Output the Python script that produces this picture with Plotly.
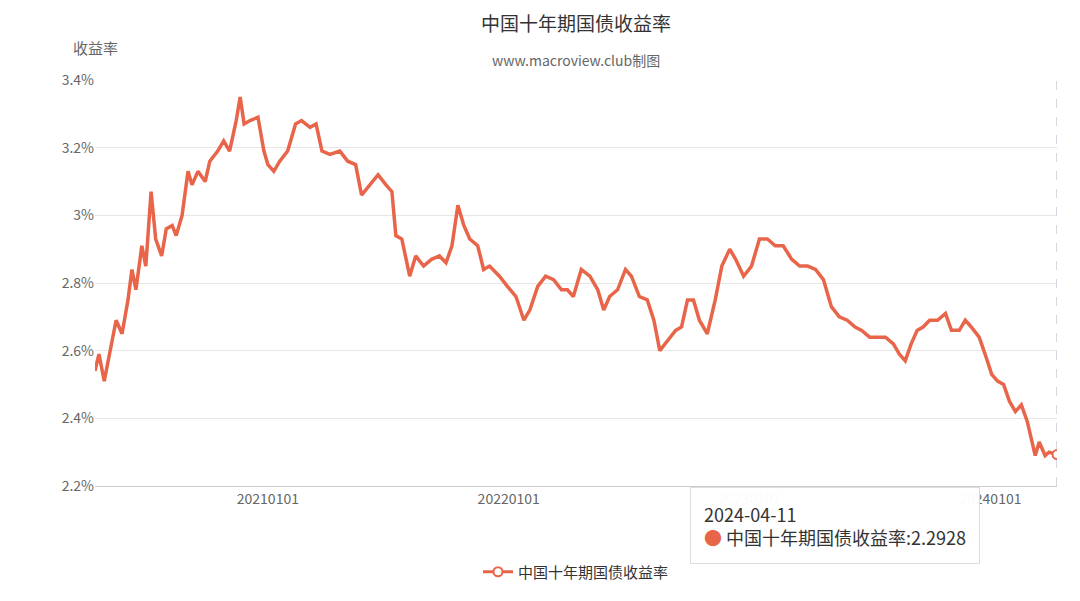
import plotly.graph_objects as go

dates = ["2020-04-14","2020-04-20","2020-04-28","2020-05-07","2020-05-16","2020-05-25","2020-06-03","2020-06-09","2020-06-15","2020-06-24","2020-06-30","2020-07-08","2020-07-15","2020-07-24","2020-07-31","2020-08-09","2020-08-15","2020-08-24","2020-09-02","2020-09-08","2020-09-17","2020-09-28","2020-10-05","2020-10-17","2020-10-26","2020-11-04","2020-11-14","2020-11-20","2020-11-26","2020-12-05","2020-12-17","2020-12-26",
"2021-01-01","2021-01-10","2021-01-19","2021-01-31","2021-02-12","2021-02-21","2021-03-06","2021-03-15","2021-03-24","2021-04-05","2021-04-20","2021-05-02","2021-05-14","2021-05-23","2021-06-04","2021-06-17","2021-06-29","2021-07-08","2021-07-14","2021-07-23","2021-08-04","2021-08-13","2021-08-25","2021-09-06","2021-09-18","2021-09-28","2021-10-07","2021-10-16","2021-10-25","2021-11-03","2021-11-15","2021-11-24","2021-12-03","2021-12-18","2021-12-30",
"2022-01-12","2022-01-24","2022-02-02","2022-02-14","2022-02-26","2022-03-10","2022-03-22","2022-03-31","2022-04-09","2022-04-21","2022-05-04","2022-05-16","2022-05-25","2022-06-03","2022-06-15","2022-06-27","2022-07-06","2022-07-18","2022-07-30","2022-08-09","2022-08-18","2022-08-30","2022-09-11","2022-09-20","2022-09-29","2022-10-08","2022-10-17","2022-10-29","2022-11-10","2022-11-20","2022-12-02","2022-12-11","2022-12-23",
"2023-01-04","2023-01-16","2023-01-28","2023-02-09","2023-02-21","2023-03-06","2023-03-18","2023-03-30","2023-04-11","2023-04-23","2023-05-05","2023-05-17","2023-05-29","2023-06-10","2023-06-20","2023-07-02","2023-07-14","2023-07-26","2023-08-07","2023-08-16","2023-08-25","2023-09-03","2023-09-12","2023-09-21","2023-10-01","2023-10-13","2023-10-25","2023-11-03","2023-11-15","2023-11-24","2023-12-03","2023-12-15","2023-12-24",
"2024-01-03","2024-01-12","2024-01-21","2024-01-30","2024-02-08","2024-02-17","2024-02-26","2024-03-03","2024-03-09","2024-03-15","2024-03-24","2024-03-30","2024-04-11"]
yields = [2.54,2.59,2.51,2.60,2.69,2.65,2.75,2.84,2.78,2.91,2.85,3.07,2.93,2.88,2.96,2.97,2.94,3.00,3.13,3.09,3.13,3.10,3.16,3.19,3.22,3.19,3.28,3.35,3.27,3.28,3.29,3.19,
3.15,3.13,3.16,3.19,3.27,3.28,3.26,3.27,3.19,3.18,3.19,3.16,3.15,3.06,3.09,3.12,3.09,3.07,2.94,2.93,2.82,2.88,2.85,2.87,2.88,2.86,2.91,3.03,2.97,2.93,2.91,2.84,2.85,2.82,2.79,
2.76,2.69,2.72,2.79,2.82,2.81,2.78,2.78,2.76,2.84,2.82,2.78,2.72,2.76,2.78,2.84,2.82,2.76,2.75,2.69,2.60,2.63,2.66,2.67,2.75,2.75,2.69,2.65,2.75,2.85,2.90,2.87,2.82,
2.85,2.93,2.93,2.91,2.91,2.87,2.85,2.85,2.84,2.81,2.73,2.70,2.69,2.67,2.66,2.64,2.64,2.64,2.62,2.59,2.57,2.62,2.66,2.67,2.69,2.69,2.71,2.66,2.66,2.69,2.67,2.64,2.59,
2.53,2.51,2.50,2.45,2.42,2.44,2.39,2.34,2.29,2.33,2.29,2.30,2.2928]
ytick_vals = [2.2,2.4,2.6,2.8,3.0,3.2,3.4]
ytick_text = ["2.2%","2.4%","2.6%","2.8%","3%","3.2%","3.4%"]
xtick_vals = ["2021-01-01","2022-01-01","2023-01-01","2024-01-01"]
xtick_text = ["20210101","20220101","20230101","20240101"]
name = "中国十年期国债收益率"
color = "#E8654A"
font = "Noto Sans CJK SC"

fig = go.Figure()
fig.add_trace(go.Scatter(x=dates, y=yields, mode="lines", name=name,
    line=dict(color=color, width=3.5), showlegend=False))
fig.add_trace(go.Scatter(x=[dates[-1]], y=[yields[-1]], mode="markers+lines", name=name,
    marker=dict(size=9, color="white", line=dict(color=color, width=2)),
    line=dict(color=color, width=3), showlegend=True))
fig.add_vline(x=dates[-1], line=dict(color="#aab0bd", width=1, dash="dash"))
H = 406
fig.update_layout(
    width=1080, height=601, plot_bgcolor="white", paper_bgcolor="white",
    font=dict(family=font, color="#666", size=14),
    margin=dict(l=87, r=31, t=72, b=123, autoexpand=False),
    xaxis=dict(range=["2020-04-14","2024-04-11"], tickvals=xtick_vals, ticktext=xtick_text,
               showgrid=False, showline=True, linecolor="#ccc", ticks="", tickfont=dict(color="#666")),
    yaxis=dict(range=[2.2,3.4], tickvals=ytick_vals, ticktext=ytick_text, gridcolor="#e6e6e6",
               showline=False, zeroline=False, tickfont=dict(color="#666")),
    legend=dict(orientation="h", x=0.5, xanchor="center", y=-86/H, yanchor="middle",
                font=dict(size=15, color="#333")),
    annotations=[
        dict(text="中国十年期国债收益率", xref="paper", yref="paper", x=0.5, y=1+58/H,
             yanchor="middle", showarrow=False, font=dict(size=19, color="#333")),
        dict(text="www.macroview.club制图", xref="paper", yref="paper", x=0.5, y=1+20/H,
             yanchor="middle", showarrow=False, font=dict(size=14, color="#666")),
        dict(text="收益率", xref="paper", yref="paper", x=0.0, y=1+33/H,
             xanchor="center", yanchor="middle", showarrow=False, font=dict(size=15, color="#666")),
        dict(text="2024-04-11<br><span style='color:%s'>●</span> 中国十年期国债收益率:2.2928" % color,
             xref="paper", yref="paper", x=0.619, y=-0.003, xanchor="left", yanchor="top",
             align="left", showarrow=False, bgcolor="rgba(255,255,255,0.97)", bordercolor="#ddd",
             borderwidth=1, borderpad=13, font=dict(size=18, color="#333")),
    ],
)
fig.write_html("out.html")
